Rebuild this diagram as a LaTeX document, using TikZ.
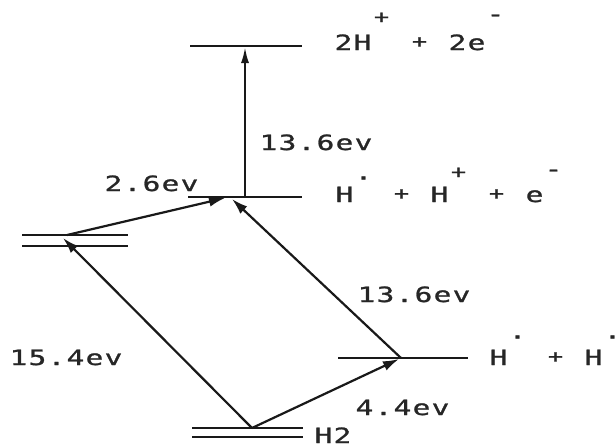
\documentclass[tikz,border=0pt]{standalone}
\usepackage{fontspec}
\newfontfamily\dmono[FakeStretch=1.4,FakeBold=1.2]{DejaVu Sans Mono}
\usetikzlibrary{arrows.meta}
\newcommand\cell[1]{\makebox[9.5pt]{#1}}
\newcommand\hsup[2]{\makebox[9.5pt]{\raisebox{#1}{#2}}}
\newcommand\pl{{\fontsize{9pt}{9pt}\selectfont +}}
\newcommand\ipl{\cell{\raisebox{1.2pt}{\pl}}}
\makeatletter
\def\mono#1{\mono@loop#1\mono@end}
\def\mono@end{\mono@end}
\def\mono@loop#1{\ifx#1\mono@end\else\cell{#1}\expandafter\mono@loop\fi}
\makeatother
\begin{document}
\begin{tikzpicture}[x=0.5pt,y=-0.5pt,
  level/.style={line width=1.4pt, draw=black!90},
  trans/.style={line width=1.1pt, draw=black!90, -{Latex[length=8pt,width=5pt]}},
  vtrans/.style={line width=1.1pt, draw=black!90, -{Latex[length=8pt,width=4pt]}},
  lbl/.style={anchor=base west, inner sep=0pt, outer sep=0pt, text=black!85,
    font={\dmono\fontsize{10.5pt}{12pt}\selectfont}}]
\useasboundingbox[fill=white] (0,0) rectangle (615,447);
% level end points
\coordinate (Tl) at (190,46);  \coordinate (Tr) at (302,46);  \coordinate (Ta) at (245,47);
\coordinate (Ml) at (188,197); \coordinate (Mr) at (302,197); \coordinate (Ma) at (245,197);
\coordinate (Mb) at (225,198); \coordinate (Mc) at (232,199);
\coordinate (L1l) at (22,235); \coordinate (L1r) at (128,235);
\coordinate (L2l) at (22,246); \coordinate (L2r) at (128,246);
\coordinate (La) at (67,235);  \coordinate (Lb) at (63,238);
\coordinate (Rl) at (338,358); \coordinate (Rr) at (468,358);
\coordinate (Ra) at (401,358); \coordinate (Rb) at (399,359);
\coordinate (H1l) at (192,428); \coordinate (H1r) at (303,428);
\coordinate (H2l) at (192,437); \coordinate (H2r) at (303,437);
\coordinate (Ha) at (252,428);
% levels
\draw[level] (Tl) -- (Tr);
\draw[level] (Ml) -- (Mr);
\draw[level] (L1l) -- (L1r);
\draw[level] (L2l) -- (L2r);
\draw[level] (Rl) -- (Rr);
\draw[level] (H1l) -- (H1r);
\draw[level] (H2l) -- (H2r);
% transitions
\draw[vtrans] (Ma) -- (Ta);
\draw[trans] (La) -- (Mb);
\draw[trans] (Ha) -- (Lb);
\draw[trans] (Ha) -- (Rb);
\draw[trans] (Ra) -- (Mc);
% labels
\node[lbl] (top) at (334,50) {\mono{2H}\hsup{13.5pt}{\pl}\cell{}\ipl\cell{}\mono{2e}\hsup{14.4pt}{-}};
\node[lbl] (mid) at (335,202) {\mono{H}\hsup{11.2pt}{.}\cell{}\ipl\cell{}\mono{H}\hsup{12pt}{\pl}\cell{}\ipl\cell{}\mono{e}\hsup{12.85pt}{-}};
\node[lbl] (low) at (489,365) {\mono{H}\hsup{13.2pt}{.}\cell{}\ipl\cell{}\mono{H}\hsup{13.2pt}{.}};
\node[lbl] (e1) at (259,150) {\mono{13.6ev}};
\node[lbl] (e2) at (104,191) {\mono{2.6ev}};
\node[lbl] (e3) at (357,302) {\mono{13.6ev}};
\node[lbl] (e4) at (9,365) {\mono{15.4ev}};
\node[lbl] (e5) at (355,415) {\mono{4.4ev}};
\node[lbl] (h2) at (314,443) {\mono{H2}};
\end{tikzpicture}
\end{document}
